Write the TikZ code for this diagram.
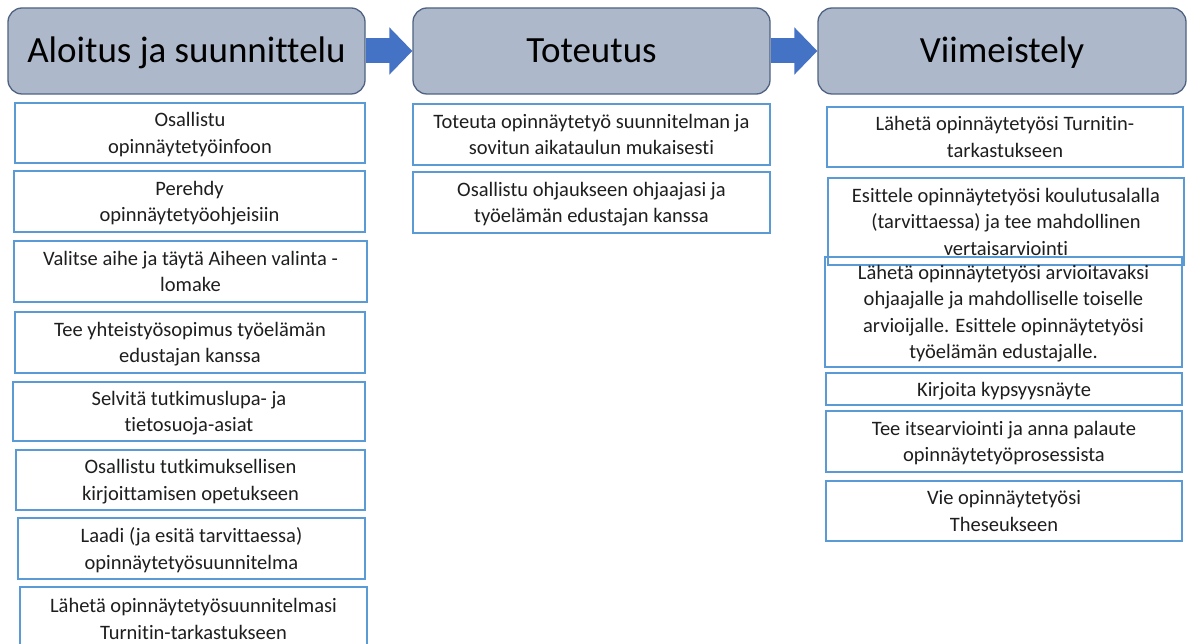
\documentclass[tikz,border=0pt]{standalone}
\usepackage{fontspec}
\setmainfont{Carlito}[Ligatures=NoCommon]
\usetikzlibrary{arrows.meta}
\definecolor{hdrfill}{HTML}{ADB9CA}
\definecolor{hdrline}{HTML}{4F6282}
\definecolor{arrowblue}{HTML}{4472C4}
\definecolor{boxline}{HTML}{5B9BD5}
\definecolor{txt}{HTML}{1E1E1E}
\begin{document}
\begin{tikzpicture}[x=1pt,y=-1pt,
  hdr/.style={draw=hdrline, line width=1.3pt, fill=hdrfill, rounded corners=14pt,
    minimum height=86pt, inner sep=0pt, text height=24pt, text depth=0pt,
    font=\fontsize{37}{40}\selectfont, text=black},
  stepbox/.style={draw=boxline, line width=1.2pt, fill=white, inner sep=0pt, text depth=0pt,
    align=center, font=\fontsize{20.5}{26.5}\selectfont, text=txt},
  flow/.style={draw=arrowblue, line width=25pt, -{Triangle[length=23pt,width=46pt,fill=arrowblue]}}]
\useasboundingbox (0,0) rectangle (1188,644);
\clip (0,0) rectangle (1188,644);
\fill[white] (0,0) rectangle (1188,644);

% headers
\node[hdr, minimum width=357pt] (h1) at (186.5,51) {Aloitus ja suunnittelu};
\node[hdr, minimum width=357pt] (h2) at (591.5,51) {Toteutus};
\node[hdr, minimum width=368pt] (h3) at (1002,51) {Viimeistely};

\draw[flow] (h1.east) -- (h2.west);
\draw[flow] (h2.east) -- (h3.west);

% column 1
\node[stepbox, minimum width=350pt, minimum height=60pt] (a1) at (190,133) {Osallistu\\opinnäytetyöinfoon};
\node[stepbox, minimum width=351pt, minimum height=61pt] (a2) at (189.5,201.5) {Perehdy\\opinnäytetyöohjeisiin};
\node[stepbox, minimum width=353pt, minimum height=61pt] (a3) at (190.5,271.5) {Valitse aihe ja täytä Aiheen valinta -\\lomake};
\node[stepbox, minimum width=350pt, minimum height=61pt] (a4) at (190,342.5) {Tee yhteistyösopimus työelämän\\edustajan kanssa};
\node[stepbox, minimum width=352pt, minimum height=59pt] (a5) at (189,411.5) {Selvitä tutkimuslupa- ja\\tietosuoja-asiat};
\node[stepbox, minimum width=349pt, minimum height=60pt] (a6) at (190.5,480) {Osallistu tutkimuksellisen\\kirjoittamisen opetukseen};
\node[stepbox, minimum width=347pt, minimum height=61pt] (a7) at (191.5,548.5) {Laadi (ja esitä tarvittaessa)\\opinnäytetyösuunnitelma};
\node[stepbox, minimum width=347pt, minimum height=64pt] (a8) at (193.5,619) {Lähetä opinnäytetyösuunnitelmasi\\Turnitin-tarkastukseen};

% column 2
\node[stepbox, minimum width=357pt, minimum height=61pt] (b1) at (591.5,134.5) {Toteuta opinnäytetyö suunnitelman ja\\sovitun aikataulun mukaisesti};
\node[stepbox, minimum width=357pt, minimum height=61pt] (b2) at (591.5,202.5) {Osallistu ohjaukseen ohjaajasi ja\\työelämän edustajan kanssa};

% column 3
\node[stepbox, minimum width=356pt, minimum height=60pt] (c1) at (1005,137) {Lähetä opinnäytetyösi Turnitin-\\tarkastukseen};
\node[stepbox, minimum width=356pt, minimum height=87pt] (c2) at (1006,221.5) {Esittele opinnäytetyösi koulutusalalla\\(tarvittaessa) ja tee mahdollinen\\vertaisarviointi};
\node[stepbox, minimum width=357pt, minimum height=110pt, fill=none] (c3) at (1003.5,312) {Lähetä opinnäytetyösi arvioitavaksi\\ohjaajalle ja mahdolliselle toiselle\\arvioijalle. Esittele opinnäytetyösi\\työelämän edustajalle.};
\node[stepbox, minimum width=356pt, minimum height=32pt] (c4) at (1004,389) {Kirjoita kypsyysnäyte};
\node[stepbox, minimum width=356pt, minimum height=61pt] (c5) at (1004,441.5) {Tee itsearviointi ja anna palaute\\opinnäytetyöprosessista};
\node[stepbox, minimum width=356pt, minimum height=60pt] (c6) at (1004,511) {Vie opinnäytetyösi\\Theseukseen};
\end{tikzpicture}
\end{document}
